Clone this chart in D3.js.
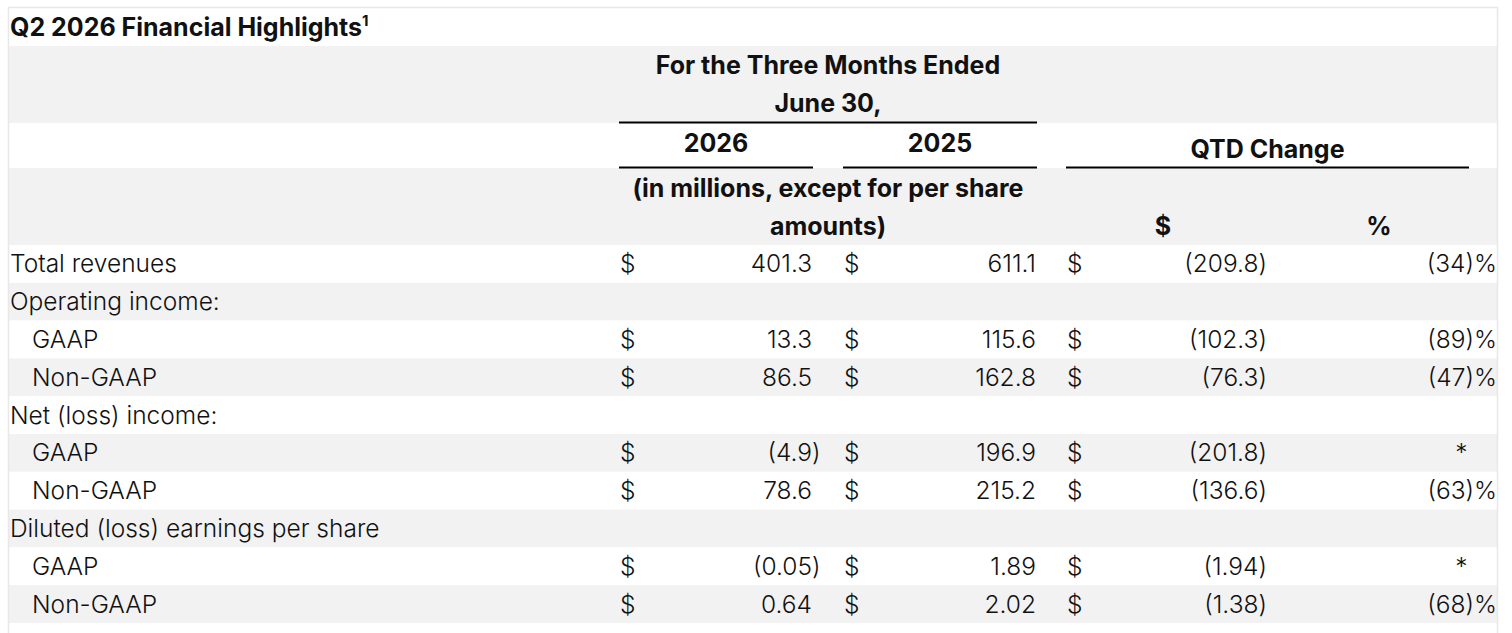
<!DOCTYPE html>
<html>
<head>
<meta charset="utf-8">
<script src="https://cdn.jsdelivr.net/npm/d3@7"></script>
<style>
  html, body { margin: 0; padding: 0; background: #fff; }
  svg { display: block; }
</style>
</head>
<body>
<script>
// Q2 2026 financial highlights table
const title = 'Q2 2026 Financial Highlights';
const periodHeader = ['For the Three Months Ended', 'June 30,'];
const years = ['2026', '2025'];
const unitsNote = ['(in millions, except for per share', 'amounts)'];
const changeHeader = 'QTD Change';
const changeSubHeads = ['$', '%'];

const rowLabels = [
  'Total revenues', 'Operating income:', 'GAAP', 'Non-GAAP',
  'Net (loss) income:', 'GAAP', 'Non-GAAP',
  'Diluted (loss) earnings per share', 'GAAP', 'Non-GAAP'
];
const rowIndent = [0, 0, 1, 1, 0, 1, 1, 0, 1, 1];
const rowDecimals = [1, 1, 1, 1, 1, 1, 1, 2, 2, 2];
const values2026 = [401.3, null, 13.3, 86.5, null, -4.9, 78.6, null, -0.05, 0.64];
const values2025 = [611.1, null, 115.6, 162.8, null, 196.9, 215.2, null, 1.89, 2.02];
const changeDollar = [-209.8, null, -102.3, -76.3, null, -201.8, -136.6, null, -1.94, -1.38];
const changePct = [-34, null, -89, -47, null, '*', -63, null, '*', -68];

const W = 1512, H = 633;
const FONT = 'Inter, "Noto Sans", sans-serif';
const GREY = '#f2f2f2';

const svg = d3.select('body').append('svg').attr('width', W).attr('height', H);

const L = { left: 9, right: 1497, labelX: 10, indentX: 32 };

// header bands [y0, y1]
const bands = [[7, 46, '#fff'], [46, 123, GREY], [123, 168, '#fff'], [168, 245, GREY]];

const y = d3.scaleBand().domain(d3.range(rowLabels.length)).range([245, 623]);

svg.selectAll('rect.band').data(bands).join('rect')
  .attr('class', 'band')
  .attr('x', L.left).attr('width', L.right - L.left)
  .attr('y', d => d[0]).attr('height', d => d[1] - d[0])
  .attr('fill', d => d[2]);

svg.selectAll('rect.row').data(rowLabels).join('rect')
  .attr('class', 'row')
  .attr('x', L.left).attr('width', L.right - L.left)
  .attr('y', (d, i) => y(i)).attr('height', y.bandwidth())
  .attr('fill', (d, i) => i % 2 ? GREY : '#fff');

// outer border
svg.append('path')
  .attr('d', `M${L.left - 0.5},${H + 2}V7.5H${L.right + 0.5}V${H + 2}`)
  .attr('fill', 'none').attr('stroke', '#e8e8e8').attr('stroke-width', 1.5);

// column layout
const col = {
  y26: { x0: 619, x1: 813, sign: 620, anchor: 812 },
  y25: { x0: 843, x1: 1037, sign: 844, anchor: 1036 },
  chg: { x0: 1066, x1: 1469, sign: 1067, right: 1267 },
  pct: { right: 1497 }
};

const bold = sel => sel.attr('font-family', FONT).attr('font-weight', 700)
  .attr('font-size', 25).attr('fill', '#111');
const light = sel => sel.attr('font-family', FONT).attr('font-weight', 300)
  .attr('font-size', 24.5).attr('fill', '#111');

// title
const t = svg.append('text').attr('x', L.labelX).attr('y', 36).call(bold).text(title);
t.append('tspan').attr('font-size', 15).attr('dy', -10).text('1');

// header texts
const midPeriod = (col.y26.x0 + col.y25.x1) / 2;
svg.selectAll('text.ph').data(periodHeader).join('text')
  .attr('class', 'ph').call(bold)
  .attr('x', midPeriod).attr('y', (d, i) => 74 + i * 38)
  .attr('text-anchor', 'middle').text(d => d);

svg.selectAll('text.yr').data(years).join('text')
  .attr('class', 'yr').call(bold)
  .attr('x', (d, i) => { const c = i ? col.y25 : col.y26; return (c.x0 + c.x1) / 2; })
  .attr('y', 152).attr('text-anchor', 'middle').text(d => d);

svg.append('text').call(bold)
  .attr('x', (col.chg.x0 + col.chg.x1) / 2).attr('y', 158)
  .attr('text-anchor', 'middle').text(changeHeader);

svg.selectAll('text.un').data(unitsNote).join('text')
  .attr('class', 'un').call(bold)
  .attr('x', midPeriod).attr('y', (d, i) => 197 + i * 38)
  .attr('text-anchor', 'middle').text(d => d);

svg.selectAll('text.sub').data(changeSubHeads).join('text')
  .attr('class', 'sub').call(bold)
  .attr('x', (d, i) => [1163, 1379][i]).attr('y', 235)
  .attr('text-anchor', 'middle').text(d => d);

// header rules
const rules = [
  [col.y26.x0, col.y25.x1, 122.5],
  [col.y26.x0, col.y26.x1, 167.5],
  [col.y25.x0, col.y25.x1, 167.5],
  [col.chg.x0, col.chg.x1, 167.5]
];
svg.selectAll('line.rule').data(rules).join('line')
  .attr('class', 'rule')
  .attr('x1', d => d[0]).attr('x2', d => d[1])
  .attr('y1', d => d[2]).attr('y2', d => d[2])
  .attr('stroke', '#000').attr('stroke-width', 2);

// body
const base = i => y(i) + y.bandwidth() / 2 + 8.5;

svg.selectAll('text.lbl').data(rowLabels).join('text')
  .attr('class', 'lbl').call(light)
  .attr('x', (d, i) => rowIndent[i] ? L.indentX : L.labelX)
  .attr('y', (d, i) => base(i)).text(d => d);

// measure hanging suffix widths
const probe = svg.append('text').call(light).text(')');
const wParen = probe.node().getComputedTextLength();
probe.text(')%');
const wParenPct = probe.node().getComputedTextLength();
probe.remove();

const g = svg.append('g');

function numberCell(i, v, anchor, suffix, dec) {
  const neg = v < 0;
  const core = (neg ? '(' : '') + d3.format(`,.${dec}f`)(Math.abs(v));
  g.append('text').call(light).attr('x', anchor).attr('y', base(i))
    .attr('text-anchor', 'end').text(core);
  const tail = (neg ? ')' : '') + suffix;
  if (tail) g.append('text').call(light).attr('x', anchor).attr('y', base(i)).text(tail);
}

function dollarSign(i, x) {
  g.append('text').call(light).attr('x', x).attr('y', base(i)).text('$');
}

rowLabels.forEach((lbl, i) => {
  const dec = rowDecimals[i];
  if (values2026[i] != null) {
    dollarSign(i, col.y26.sign);
    numberCell(i, values2026[i], col.y26.anchor, '', dec);
  }
  if (values2025[i] != null) {
    dollarSign(i, col.y25.sign);
    numberCell(i, values2025[i], col.y25.anchor, '', dec);
  }
  if (changeDollar[i] != null) {
    dollarSign(i, col.chg.sign);
    numberCell(i, changeDollar[i], col.chg.right - wParen, '', dec);
  }
  const p = changePct[i];
  if (p === '*') {
    g.append('text').call(light).attr('x', col.pct.right - wParenPct + 2).attr('y', base(i))
      .attr('text-anchor', 'end').text('*');
  } else if (p != null) {
    numberCell(i, p, col.pct.right - wParenPct, '%', 0);
  }
});
</script>
</body>
</html>
